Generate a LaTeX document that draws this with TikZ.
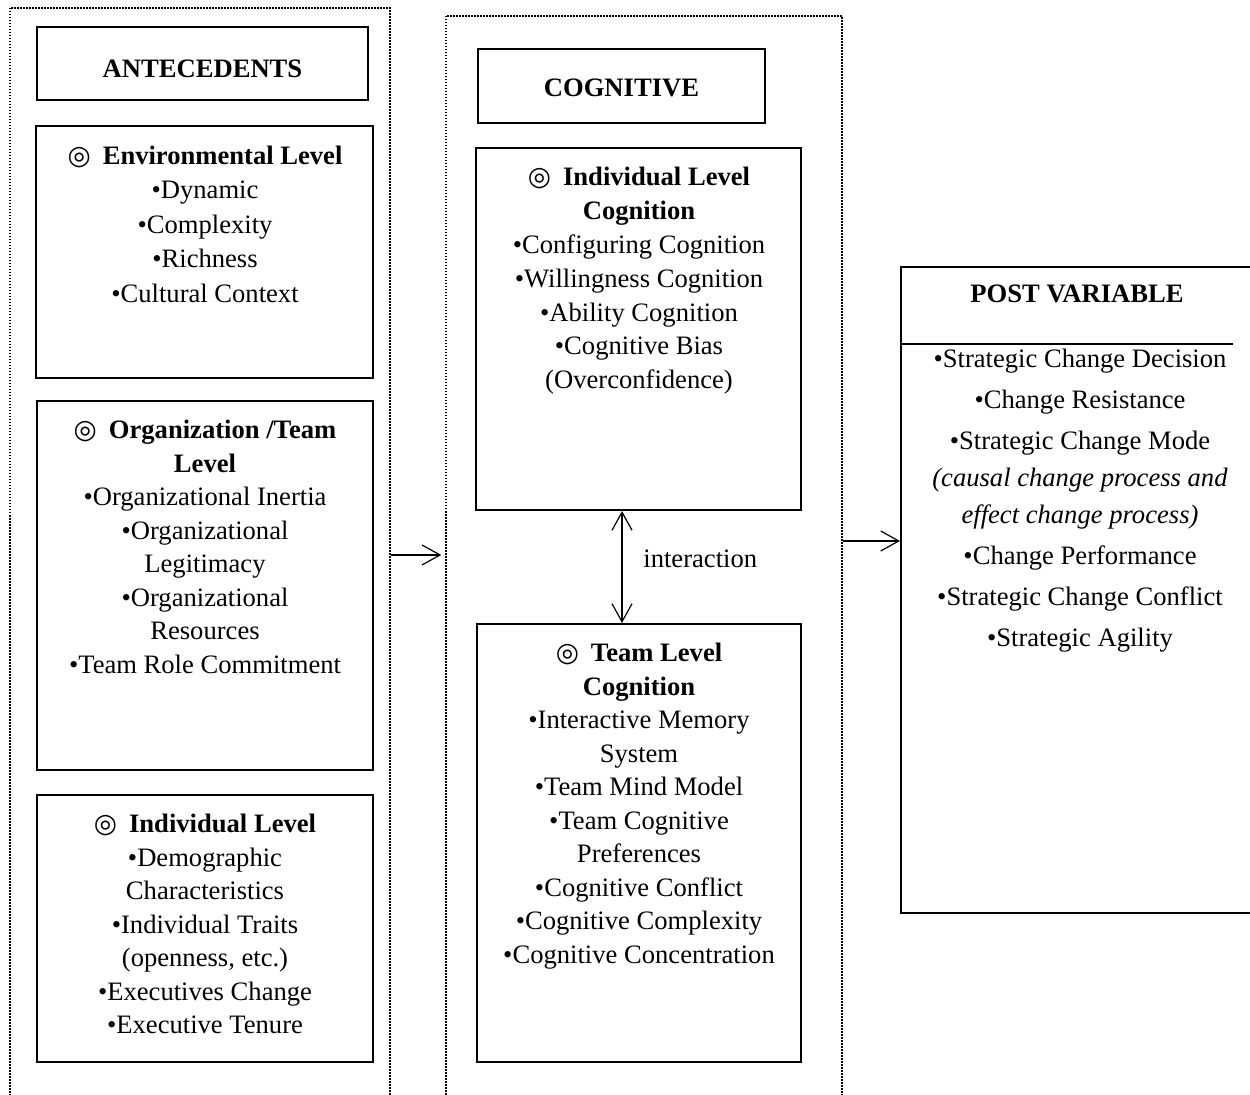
\documentclass[tikz,border=0pt]{standalone}
\usepackage{fontspec}
\setmainfont{Liberation Serif}
\newfontfamily\symfont{DejaVu Sans}
\usetikzlibrary{positioning,fit,arrows.meta}
\tikzset{font=\fontsize{13.3}{16.75}\selectfont}
\newcommand{\lvl}[1]{\rule{0pt}{11pt}{\symfont\bfseries ◎}\hspace{0.45em}\textbf{#1}}
\newcommand{\tp}{\rule{0pt}{11pt}}

\begin{document}
\begin{tikzpicture}[x=0.5pt, y=-0.5pt,
	frame/.style={draw, line width=0.75pt, dash pattern=on 0.75pt off 0.75pt, inner sep=0pt},
	box/.style={draw, line width=1pt, inner sep=0pt},
	txt/.style={align=center, inner sep=0pt, anchor=base},
	list/.style={align=center, inner sep=0pt, anchor=north},
	barb/.style={line width=0.6pt, arrows={-Straight Barb[length=9pt,width=10pt]}},
	twobarb/.style={line width=0.6pt, arrows={Straight Barb[length=9pt,width=10pt]-Straight Barb[length=9pt,width=10pt]}}]
	\useasboundingbox (0,0) rectangle (1250,1095);

	% dotted columns
	\node[frame, fit={(10,8) (390,1120)}] (leftframe) {};
	\node[frame, fit={(446,16) (842,1120)}] (midframe) {};

	% antecedents
	\node[box, fit={(37,27) (368,100)}] (antec) {};
	\node[txt] (antectext) at (202.5,78) {\textbf{ANTECEDENTS}};
	\node[box, fit={(36,126) (373,378)}] (envbox) {};
	\node[list, font=\fontsize{13.3}{17.25}\selectfont] (envtext) at (205,142) {\lvl{Environmental Level}\\
		•Dynamic\\ •Complexity\\ •Richness\\ •Cultural Context};
	\node[box, fit={(37,401) (373,770)}] (orgbox) {};
	\node[list] (orgtext) at (205,416.5) {\lvl{Organization /Team}\\ \textbf{Level}\\
		•Organizational Inertia\\ •Organizational\\ Legitimacy\\ •Organizational\\ Resources\\ •Team Role Commitment};
	\node[box, fit={(37,795) (373,1062)}] (indbox) {};
	\node[list] (indtext) at (205,810.5) {\lvl{Individual Level}\\
		•Demographic\\ Characteristics\\ •Individual Traits\\ (openness, etc.)\\ •Executives Change\\ •Executive Tenure};

	% cognitive
	\node[box, fit={(478,49) (765,123)}] (cogn) {};
	\node[txt] (cogntext) at (621.5,97) {\textbf{COGNITIVE}};
	\node[box, fit={(476,148) (801,510)}] (indcog) {};
	\node[list, font=\fontsize{13.3}{16.9}\selectfont] (indcogtext) at (639,163.5) {\lvl{Individual Level}\\ \textbf{Cognition}\\
		•Configuring Cognition\\ •Willingness Cognition\\ •Ability Cognition\\ •Cognitive Bias\\ (Overconfidence)};
	\node[box, fit={(477,624) (801,1062)}] (teamcog) {};
	\node[list] (teamcogtext) at (639,639.5) {\lvl{Team Level}\\ \textbf{Cognition}\\
		•Interactive Memory\\ System\\ •Team Mind Model\\ •Team Cognitive\\ Preferences\\
		•Cognitive Conflict\\ •Cognitive Complexity\\ •Cognitive Concentration};

	% post variable
	\node[box, fit={(901,267) (1262,913)}] (postbox) {};
	\node[txt] (posthead) at (1077,302.5) {\textbf{POST VARIABLE}};
	\draw[line width=0.6pt] (postbox.west |- 0,344) -- (1233,344);
	\node[list, font=\fontsize{13.3}{20.5}\selectfont] (posttext) at (1080,345.5) {\tp•Strategic Change Decision\\
		•Change Resistance\\ •Strategic Change Mode\\[-2pt] \textit{(causal change process and}\\[-2pt]
		\textit{effect change process)}\\ •Change Performance\\ •Strategic Change Conflict\\ •Strategic Agility};

	% connectors
	\draw[barb] (leftframe.east |- 0,555) -- ([xshift=-2pt]midframe.west |- 0,555);
	\draw[barb] (midframe.east |- 0,541) -- (postbox.west |- 0,541);
	\draw[twobarb] (indcog.south -| 622,0) -- (teamcog.north -| 622,0);
	\node[txt, anchor=base west] (inter) at (643,568) {interaction};
\end{tikzpicture}
\end{document}
